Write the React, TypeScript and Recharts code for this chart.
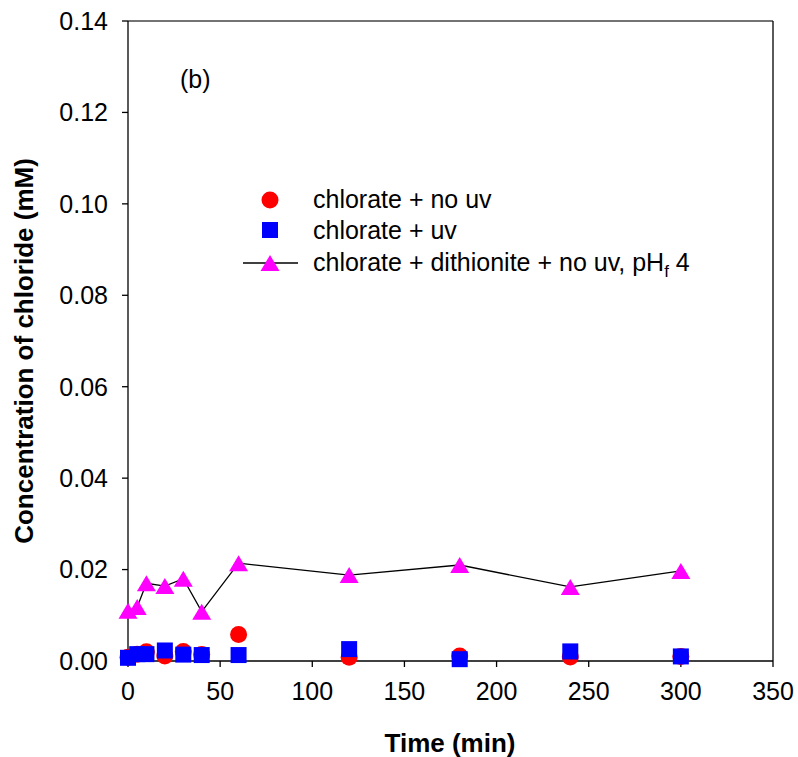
import { ComposedChart, Scatter, Line, XAxis, YAxis, ReferenceLine, Legend } from 'recharts';

const times = [0, 5, 10, 20, 30, 40, 60, 120, 180, 240, 300];
const chlorateNoUv = [0.0008, 0.0015, 0.002, 0.0011, 0.0021, 0.0014, 0.0058, 0.0008, 0.0011, 0.0009, 0.001];
const chlorateUv = [0.0007, 0.0015, 0.0015, 0.0023, 0.0014, 0.0013, 0.0013, 0.0026, 0.0004, 0.0021, 0.001];
const chlorateDithionite = [0.011, 0.0118, 0.017, 0.0164, 0.018, 0.0108, 0.0214, 0.0188, 0.021, 0.0162, 0.0197];

const xTicks = [0, 50, 100, 150, 200, 250, 300, 350];
const yTicks = [0, 0.02, 0.04, 0.06, 0.08, 0.1, 0.12, 0.14];

const seriesNames = ['chlorate + no uv', 'chlorate + uv', 'chlorate + dithionite + no uv, pH'];
const panelTag = '(b)';

const toPoints = (vals: number[]) => times.map((x, i) => ({ x, y: vals[i] }));

const FONT = 'Arial, "Liberation Sans", sans-serif';
const RED = '#FF0000';
const BLUE = '#0000FF';
const MAGENTA = '#FF00FF';

const Circle = (p: any) => <circle cx={p.cx} cy={p.cy} r={8.5} fill={RED} />;
const Square = (p: any) => <rect x={p.cx - 8} y={p.cy - 8} width={16} height={16} fill={BLUE} />;
const Triangle = (p: any) => (
  <polygon
    key={`tri-${p.index}`}
    points={`${p.cx},${p.cy - 8} ${p.cx - 9.5},${p.cy + 8} ${p.cx + 9.5},${p.cy + 8}`}
    fill={MAGENTA}
  />
);

const LegendBox = () => (
  <svg width={798} height={300} style={{ display: 'block', pointerEvents: 'none' }}>
    <text x={180} y={88} fontSize={25} fontFamily={FONT} fill="#000">{panelTag}</text>
    <circle cx={270} cy={200} r={8.5} fill={RED} />
    <rect x={262} y={222} width={16} height={16} fill={BLUE} />
    <line x1={243} y1={263} x2={298} y2={263} stroke="#000" strokeWidth={1.3} />
    <polygon points="270,255 260.5,271 279.5,271" fill={MAGENTA} />
    <g fontSize={25} fontFamily={FONT} fill="#000">
      <text x={313} y={208}>{seriesNames[0]}</text>
      <text x={313} y={239}>{seriesNames[1]}</text>
      <text x={313} y={271}>
        {seriesNames[2]}
        <tspan fontSize={17} dy={6}>f</tspan>
        <tspan dy={-6}> 4</tspan>
      </text>
    </g>
  </svg>
);

export default function App() {
  return (
    <div style={{ position: 'absolute', left: 0, top: 0, background: '#fff' }}>
      <ComposedChart width={798} height={757} margin={{ top: 21, right: 25, bottom: 0, left: 0 }}>
        <XAxis
          type="number"
          dataKey="x"
          domain={[0, 350]}
          ticks={xTicks}
          height={96}
          tickSize={6}
          tickMargin={15}
          stroke="#000"
          strokeWidth={1.3}
          tick={{ fill: '#000', fontSize: 25, fontFamily: FONT }}
          label={{
            content: () => (
              <text x={450} y={752} textAnchor="middle" fontSize={26} fontWeight="bold" fontFamily={FONT} fill="#000">
                Time (min)
              </text>
            ),
          }}
        />
        <YAxis
          type="number"
          dataKey="y"
          domain={[0, 0.14]}
          ticks={yTicks}
          width={128}
          tickSize={6}
          tickMargin={14}
          stroke="#000"
          strokeWidth={1.3}
          tickFormatter={(v: number) => v.toFixed(2)}
          tick={{ fill: '#000', fontSize: 25, fontFamily: FONT }}
          label={{
            content: () => (
              <text
                x={33}
                y={351}
                transform="rotate(-90 33 351)"
                textAnchor="middle"
                fontSize={26}
                fontWeight="bold"
                fontFamily={FONT}
                fill="#000"
              >
                Concentration of chloride (mM)
              </text>
            ),
          }}
        />
        <ReferenceLine y={0.14} stroke="#444" strokeWidth={1.3} />
        <ReferenceLine x={350} stroke="#000" strokeWidth={1.3} />
        <Scatter name={seriesNames[0]} data={toPoints(chlorateNoUv)} dataKey="y" shape={Circle} isAnimationActive={false} />
        <Scatter name={seriesNames[1]} data={toPoints(chlorateUv)} dataKey="y" shape={Square} isAnimationActive={false} />
        <Line
          name={seriesNames[2]}
          data={toPoints(chlorateDithionite)}
          dataKey="y"
          type="linear"
          stroke="#000"
          strokeWidth={1.3}
          dot={Triangle}
          activeDot={false}
          isAnimationActive={false}
        />
        <Legend
          layout="vertical"
          align="center"
          verticalAlign="middle"
          wrapperStyle={{ left: 0, top: 0, width: 798, height: 300 }}
          content={() => <LegendBox />}
        />
      </ComposedChart>
    </div>
  );
}
